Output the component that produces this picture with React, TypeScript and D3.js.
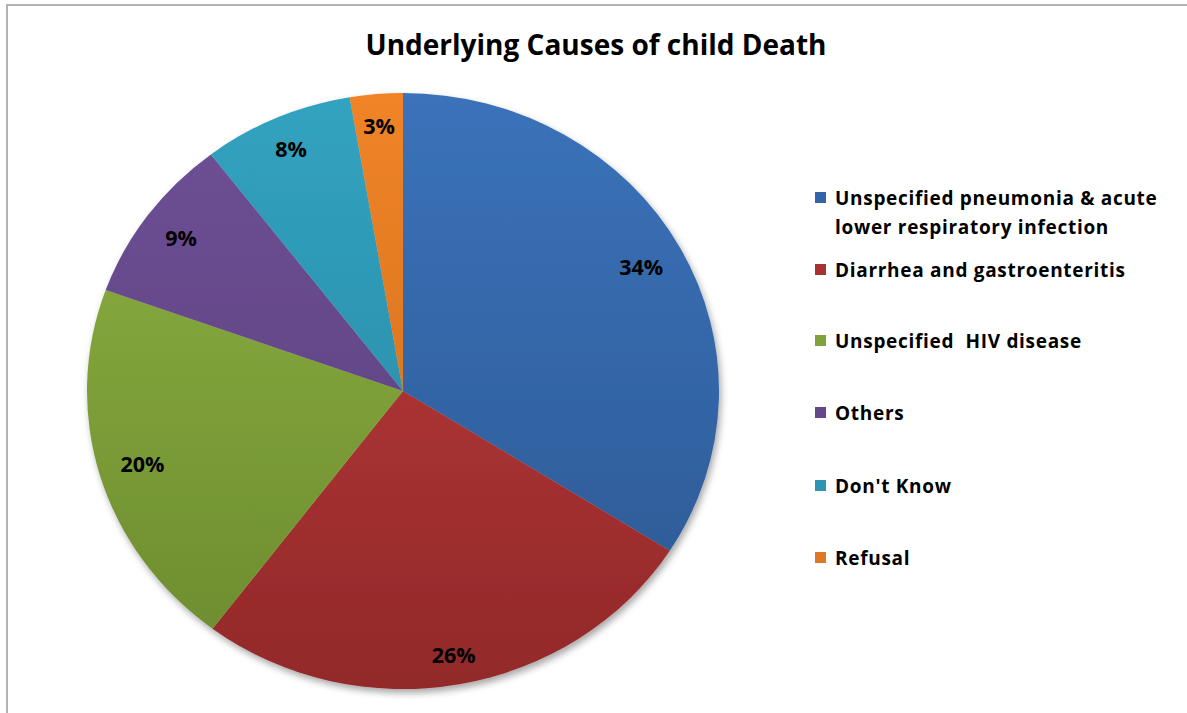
import React from "react";
import * as d3 from "d3";

const categories = [
  "Unspecified pneumonia & acute lower respiratory infection",
  "Diarrhea and gastroenteritis",
  "Unspecified  HIV disease",
  "Others",
  "Don't Know",
  "Refusal",
];
const values = [34.0, 26.3, 20.2, 9.1, 7.7, 2.7];
const percentLabels = ["34%", "26%", "20%", "9%", "8%", "3%"];
const legendLines = [
  ["Unspecified pneumonia & acute", "lower respiratory infection"],
  ["Diarrhea and gastroenteritis"],
  ["Unspecified  HIV disease"],
  ["Others"],
  ["Don't Know"],
  ["Refusal"],
];
const colorsTop = ["#3b72ba", "#c13b3a", "#8fb342", "#6f5196", "#31a3c0", "#f08426"];
const colorsBottom = ["#2b5891", "#92292a", "#6b8a2f", "#573d7a", "#2883a0", "#c96a1e"];
const legendColors = ["#3464a8", "#a83232", "#80a23a", "#644889", "#2d95b1", "#df7822"];
const title = "Underlying Causes of child Death";

// layout (label distance from centre as fraction of radius, per slice)
const labelRadiusFactor = [0.86, 0.9, 0.86, 0.87, 0.885, 0.89];

const W = 1187;
const H = 713;
const cx = 403;
const cy = 391;
const ry = 298;
const rx = 316;
const sx = rx / ry;
const FONT = "'Open Sans', Lato, sans-serif";

export default function App() {
  const pie = d3.pie<number>().sort(null).value((d) => d)(values);
  const arc = d3.arc<d3.PieArcDatum<number>>().innerRadius(0).outerRadius(ry);
  const itemY = [198, 270, 341, 413, 486, 558];

  return (
    <svg
      width={W}
      height={H}
      style={{ position: "absolute", left: 0, top: 0, background: "#fff" }}
    >
      <defs>
        {colorsTop.map((c, i) => (
          <linearGradient
            key={i}
            id={`g${i}`}
            gradientUnits="userSpaceOnUse"
            x1={0}
            y1={-ry}
            x2={0}
            y2={ry}
          >
            <stop offset="0" stopColor={c} />
            <stop offset="1" stopColor={colorsBottom[i]} />
          </linearGradient>
        ))}
        <filter id="shadow" x="-10%" y="-10%" width="125%" height="125%">
          <feDropShadow dx="2" dy="4" stdDeviation="3.5" floodColor="#000" floodOpacity="0.35" />
        </filter>
      </defs>
      <rect x={7} y={5} width={W + 20} height={H + 20} fill="#fff" stroke="#a0a0a0" strokeWidth={1.6} />
      <text
        x={596}
        y={55}
        textAnchor="middle"
        fontFamily={FONT}
        fontWeight={700}
        fontSize={28}
        fill="#000"
      >
        {title}
      </text>
      <g transform={`translate(${cx},${cy}) scale(${sx},1)`} filter="url(#shadow)">
        {pie.map((p, i) => (
          <path key={i} d={arc(p) || ""} fill={`url(#g${i})`} />
        ))}
      </g>
      {pie.map((p, i) => {
        const r = ry * labelRadiusFactor[i];
        const [lx, ly] = d3.arc<d3.PieArcDatum<number>>().innerRadius(r).outerRadius(r).centroid(p);
        return (
          <text
            key={i}
            x={cx + lx * sx}
            y={cy + ly}
            dy="0.36em"
            textAnchor="middle"
            fontFamily={FONT}
            fontWeight={700}
            fontSize={21.5}
            fill="#000"
          >
            {percentLabels[i]}
          </text>
        );
      })}
      {categories.map((c, i) => (
        <g key={c}>
          <rect x={815} y={itemY[i] - 6} width={11} height={11} fill={legendColors[i]} />
          {legendLines[i].map((line, j) => (
            <text
              key={j}
              x={835}
              y={itemY[i] + j * 29}
              dy="0.35em"
              fontFamily={FONT}
              fontWeight={700}
              fontSize={19}
              letterSpacing={0.7}
              fill="#000"
              style={{ whiteSpace: "pre" }}
            >
              {line}
            </text>
          ))}
        </g>
      ))}
    </svg>
  );
}
